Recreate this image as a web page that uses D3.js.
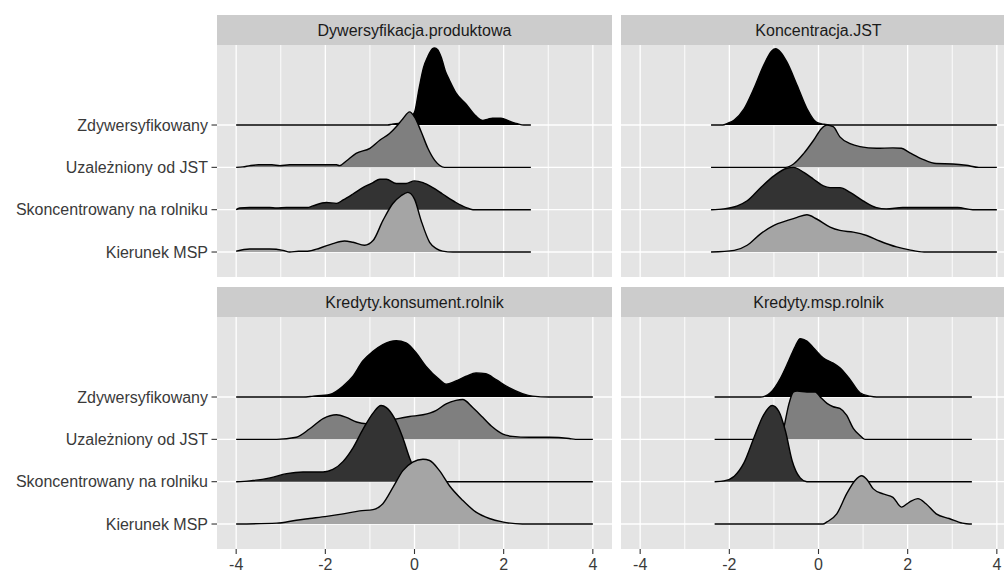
<!DOCTYPE html>
<html><head><meta charset="utf-8">
<script src="https://cdn.jsdelivr.net/npm/d3@7"></script>
<style>
body{margin:0;background:#fff}
svg{display:block}
text{font-family:"Liberation Sans",Arial,sans-serif}
</style>
</head><body>
<svg id="chart" width="1004" height="572"></svg>
<script>
// categories, bottom to top
const categories = ["Kierunek MSP", "Skoncentrowany na rolniku", "Uzależniony od JST", "Zdywersyfikowany"];
const panels = ["Dywersyfikacja.produktowa", "Koncentracja.JST", "Kredyty.konsument.rolnik", "Kredyty.msp.rolnik"];
const xTicks = [-4, -2, 0, 2, 4];
const xGrid = [-4, -3, -2, -1, 0, 1, 2, 3, 4];
const fillColors = ["#a5a5a5", "#333333", "#7f7f7f", "#000000"];

// ridge heights [x, height in row units]; one array per panel & category
const dyw_kier = [[-4,0.02],[-3.7,0.07],[-3.25,0.07],[-2.95,0.04],[-2.8,0],[-2.6,0.02],[-2.4,0.02],[-2.13,0.09],[-1.83,0.2],[-1.57,0.26],[-1.38,0.23],[-1.12,0.16],[-0.93,0.27],[-0.71,0.74],[-0.49,1.14],[-0.3,1.33],[-0.15,1.41],[0,1.25],[0.15,0.74],[0.34,0.23],[0.49,0.08],[0.63,0.02],[0.86,0],[2.61,0]];
const dyw_skon = [[-4,0],[-3.92,0.04],[-3.7,0.05],[-3.25,0.05],[-3.1,0.04],[-2.87,0.05],[-2.4,0.05],[-2.28,0.09],[-1.98,0.17],[-1.75,0.15],[-1.6,0.23],[-1.38,0.37],[-1.16,0.52],[-0.93,0.64],[-0.78,0.72],[-0.63,0.72],[-0.41,0.62],[-0.19,0.62],[0,0.68],[0.19,0.64],[0.41,0.52],[0.63,0.37],[0.93,0.17],[1.16,0.05],[1.31,0],[2.61,0]];
const dyw_uzal = [[-4,0],[-3.85,0.01],[-3.69,0.04],[-3.5,0.06],[-3.2,0.06],[-3.02,0.04],[-2.8,0.06],[-2.4,0.06],[-2.2,0.06],[-1.75,0.06],[-1.68,0.04],[-1.53,0.15],[-1.31,0.33],[-1.0,0.45],[-0.78,0.64],[-0.56,0.8],[-0.41,0.96],[-0.26,1.15],[-0.11,1.31],[0,1.19],[0.15,0.84],[0.3,0.45],[0.45,0.17],[0.56,0.05],[0.67,0],[2.61,0]];
const dyw_zdyw = [[-4,0],[-0.6,0],[-0.5,0.02],[-0.3,0.05],[-0.1,0.18],[0,0.3],[0.1,0.85],[0.2,1.35],[0.3,1.62],[0.4,1.8],[0.45,1.82],[0.52,1.78],[0.6,1.6],[0.7,1.25],[0.78,1.07],[0.93,0.76],[1.16,0.49],[1.38,0.21],[1.53,0.11],[1.65,0.14],[1.75,0.16],[1.94,0.16],[2.13,0.09],[2.31,0.03],[2.45,0],[2.61,0]];

const konc_kier = [[-2.41,0],[-1.89,0.04],[-1.6,0.16],[-1.3,0.43],[-1.0,0.63],[-0.71,0.74],[-0.48,0.82],[-0.26,0.88],[-0.04,0.78],[0.26,0.59],[0.48,0.51],[0.78,0.47],[1.08,0.39],[1.37,0.26],[1.75,0.12],[2.04,0.05],[2.37,0],[4.0,0]];
const konc_skon = [[-2.41,0],[-2.12,0.02],[-1.82,0.09],[-1.6,0.21],[-1.3,0.52],[-1.0,0.8],[-0.71,0.98],[-0.56,1.0],[-0.33,0.88],[-0.11,0.72],[0.11,0.56],[0.26,0.52],[0.48,0.52],[0.71,0.41],[1.0,0.21],[1.3,0.05],[1.52,0.02],[1.89,0.05],[3.12,0.05],[3.46,0],[4.0,0]];
const konc_uzal = [[-2.41,0],[-0.74,0],[-0.56,0.08],[-0.33,0.33],[-0.11,0.64],[0.07,0.92],[0.19,1.0],[0.33,0.96],[0.48,0.72],[0.71,0.56],[0.93,0.49],[1.3,0.45],[1.67,0.46],[1.86,0.45],[2.04,0.35],[2.34,0.19],[2.64,0.09],[3.01,0.08],[3.31,0.05],[3.6,0],[4.0,0]];
const konc_zdyw = [[-2.41,0],[-2.15,0],[-2.04,0.04],[-1.89,0.12],[-1.67,0.38],[-1.45,0.86],[-1.23,1.41],[-1.05,1.75],[-0.96,1.8],[-0.85,1.72],[-0.71,1.49],[-0.48,0.94],[-0.26,0.39],[-0.04,0.06],[0.11,0.02],[0.25,0],[4.0,0]];

const kons_kier = [[-4,0],[-3.09,0.02],[-2.65,0.09],[-2.35,0.13],[-1.97,0.18],[-1.6,0.24],[-1.23,0.31],[-0.93,0.34],[-0.71,0.48],[-0.48,0.87],[-0.26,1.26],[-0.04,1.46],[0.19,1.53],[0.34,1.5],[0.56,1.26],[0.78,0.91],[1.08,0.56],[1.38,0.28],[1.68,0.13],[1.97,0.05],[2.42,0],[4,0]];
const kons_skon = [[-4,0],[-3.69,0.02],[-3.24,0.09],[-2.87,0.19],[-2.5,0.23],[-2.05,0.23],[-1.83,0.29],[-1.6,0.48],[-1.38,0.8],[-1.16,1.23],[-0.93,1.62],[-0.75,1.8],[-0.63,1.75],[-0.45,1.5],[-0.26,1.03],[-0.11,0.56],[0.04,0.21],[0.19,0.05],[0.34,0],[4,0]];
const kons_uzal = [[-4,0],[-3.09,0],[-2.65,0.05],[-2.35,0.25],[-2.05,0.49],[-1.75,0.58],[-1.53,0.52],[-1.3,0.41],[-1.08,0.37],[-0.8,0.4],[-0.5,0.46],[-0.37,0.49],[-0.11,0.54],[0.19,0.58],[0.48,0.68],[0.71,0.84],[0.93,0.92],[1.08,0.94],[1.3,0.76],[1.53,0.52],[1.75,0.29],[1.97,0.13],[2.2,0.07],[2.57,0.05],[3.02,0.05],[3.47,0.02],[3.61,0],[4,0]];
const kons_zdyw = [[-4,0],[-2.5,0],[-2.27,0.02],[-1.9,0.06],[-1.6,0.26],[-1.38,0.49],[-1.16,0.85],[-0.93,1.08],[-0.71,1.24],[-0.41,1.33],[-0.19,1.28],[0.04,1.04],[0.26,0.72],[0.56,0.41],[0.71,0.3],[0.93,0.38],[1.16,0.49],[1.38,0.57],[1.6,0.55],[1.83,0.41],[2.12,0.22],[2.42,0.08],[2.65,0.02],[3.02,0],[4,0]];

const msp_kier = [[-2.33,0],[0.1,0],[0.19,0.05],[0.41,0.24],[0.63,0.71],[0.82,1.03],[0.97,1.14],[1.08,1.06],[1.23,0.83],[1.45,0.71],[1.67,0.63],[1.86,0.4],[2.04,0.52],[2.23,0.6],[2.41,0.48],[2.64,0.24],[2.93,0.13],[3.23,0.02],[3.38,0],[3.44,0]];
const msp_skon = [[-2.33,0],[-2.12,0.02],[-1.89,0.13],[-1.67,0.45],[-1.45,1.03],[-1.23,1.58],[-1.04,1.8],[-0.89,1.66],[-0.74,1.19],[-0.59,0.49],[-0.41,0.09],[-0.26,0],[3.44,0]];
const msp_uzal = [[-2.33,0],[-0.85,0],[-0.78,0.26],[-0.67,0.81],[-0.56,1.12],[-0.48,1.14],[-0.26,1.12],[-0.07,1.12],[0.04,1.0],[0.19,0.85],[0.33,0.77],[0.48,0.73],[0.63,0.57],[0.78,0.26],[0.93,0.09],[1.04,0],[3.44,0]];
const msp_zdyw = [[-2.33,0],[-1.3,0],[-1.2,0.02],[-1.08,0.1],[-0.85,0.45],[-0.67,0.85],[-0.52,1.2],[-0.41,1.38],[-0.26,1.32],[-0.11,1.16],[0.11,0.92],[0.33,0.8],[0.48,0.69],[0.71,0.41],[0.93,0.1],[1.15,0.02],[1.3,0],[3.44,0]];

const panelData = [
  [dyw_kier, dyw_skon, dyw_uzal, dyw_zdyw],
  [konc_kier, konc_skon, konc_uzal, konc_zdyw],
  [kons_kier, kons_skon, kons_uzal, kons_zdyw],
  [msp_kier, msp_skon, msp_uzal, msp_zdyw]
];

// layout
const panelLefts = [217, 621];
const panelTops = [45, 317];
const panelW = 395, panelH = 232, stripH = 30;

const svg = d3.select("#chart");
svg.append("rect").attr("width", 1004).attr("height", 572).attr("fill", "#fff");

const x = d3.scaleLinear().domain([-4.43, 4.43]).range([0, panelW]);
const y = d3.scaleLinear().domain([0.41, 5.89]).range([panelH, 0]);

panels.forEach((name, pi) => {
  const col = pi % 2, row = Math.floor(pi / 2);
  const g = svg.append("g").attr("transform", `translate(${panelLefts[col]},${panelTops[row]})`);
  // strip
  g.append("rect").attr("x", 0).attr("y", -stripH).attr("width", panelW).attr("height", stripH).attr("fill", "#cccccc");
  g.append("text").attr("x", panelW / 2).attr("y", -stripH / 2).attr("dy", "0.36em")
    .attr("text-anchor", "middle").attr("font-size", 16).attr("fill", "#1a1a1a").text(name);
  // panel bg
  g.append("rect").attr("width", panelW).attr("height", panelH).attr("fill", "#e4e4e4");
  // grid
  g.selectAll(".vg").data(xGrid).join("line")
    .attr("x1", d => x(d)).attr("x2", d => x(d)).attr("y1", 0).attr("y2", panelH)
    .attr("stroke", "#fff").attr("stroke-width", d => d % 2 === 0 ? 1.3 : 0.9);
  g.selectAll(".hg").data(categories).join("line")
    .attr("x1", 0).attr("x2", panelW).attr("y1", (d, i) => y(i + 1)).attr("y2", (d, i) => y(i + 1))
    .attr("stroke", "#fff").attr("stroke-width", 1.3);
  // ridges, top row drawn first
  for (let ci = categories.length - 1; ci >= 0; ci--) {
    const pts = panelData[pi][ci];
    const base = ci + 1;
    const area = d3.area().curve(d3.curveMonotoneX)
      .x(d => x(d[0])).y0(y(base)).y1(d => y(base + d[1]));
    const line = d3.line().curve(d3.curveMonotoneX)
      .x(d => x(d[0])).y(d => y(base + d[1]));
    g.append("path").datum(pts).attr("d", area).attr("fill", fillColors[ci]);
    g.append("path").datum(pts).attr("d", line).attr("fill", "none")
      .attr("stroke", "#000").attr("stroke-width", 1.4).attr("stroke-linejoin", "round");
  }
  // y axis on left column
  if (col === 0) {
    const ya = g.append("g");
    categories.forEach((c, i) => {
      ya.append("line").attr("x1", -5.5).attr("x2", 0).attr("y1", y(i + 1)).attr("y2", y(i + 1))
        .attr("stroke", "#333").attr("stroke-width", 1.1);
      ya.append("text").attr("x", -9).attr("y", y(i + 1)).attr("dy", "0.36em")
        .attr("text-anchor", "end").attr("font-size", 16).attr("fill", "#3a3a3a").text(c);
    });
  }
  // x axis on bottom row
  if (row === 1) {
    const xa = g.append("g").attr("transform", `translate(0,${panelH})`);
    xTicks.forEach(t => {
      xa.append("line").attr("x1", x(t)).attr("x2", x(t)).attr("y1", 0).attr("y2", 5)
        .attr("stroke", "#333").attr("stroke-width", 1.1);
      xa.append("text").attr("x", x(t)).attr("y", 20.5).attr("text-anchor", "middle")
        .attr("font-size", 16).attr("fill", "#3a3a3a").text(t);
    });
  }
});
</script>
</body></html>
